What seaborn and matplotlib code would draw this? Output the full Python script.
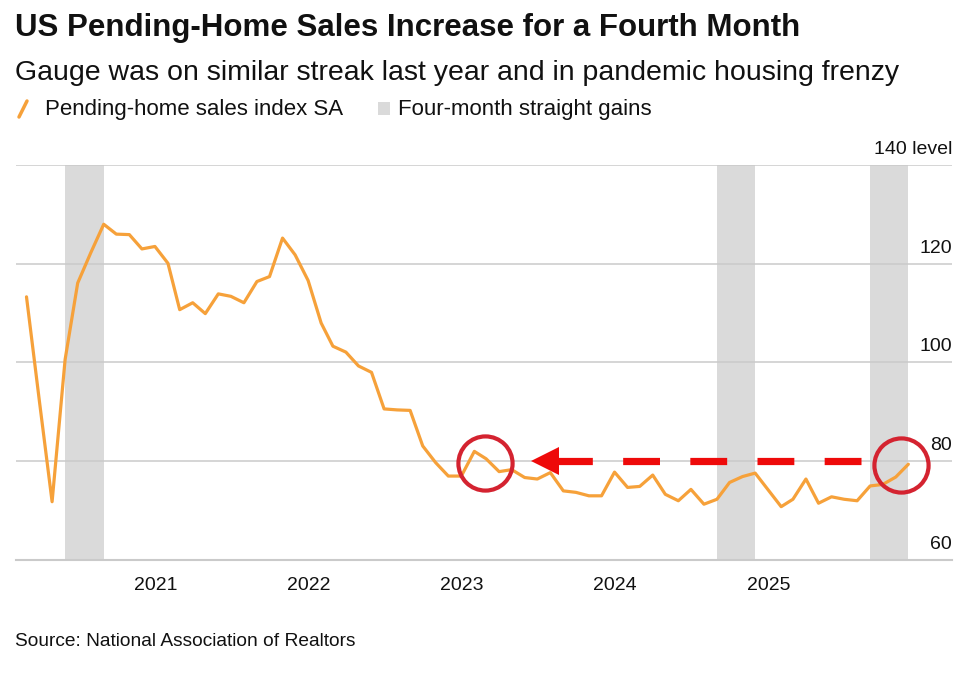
import matplotlib
matplotlib.use('Agg')
from matplotlib import pyplot as plt
from matplotlib.lines import Line2D
from matplotlib.patches import Rectangle
import matplotlib.dates as mdates
import pandas as pd
import seaborn as sns


# Pending-home sales index, seasonally adjusted
SALES_2020 = [113.3, 92.0, 71.8, 100.6, 116.1, 122.2, 128.0, 126.0, 125.9, 123.0, 123.5]  # Feb-Dec
SALES_2021 = [120.1, 110.7, 112.1, 109.9, 113.9, 113.4, 112.1, 116.4, 117.4, 125.2, 121.8, 116.6]
SALES_2022 = [108.0, 103.3, 102.1, 99.3, 98.0, 90.6, 90.4, 90.3, 83.1, 79.7, 77.0, 77.0]
SALES_2023 = [82.0, 80.5, 77.9, 78.3, 76.7, 76.4, 77.7, 74.0, 73.7, 73.0, 73.0, 77.8]
SALES_2024 = [74.7, 74.9, 77.2, 73.3, 72.0, 74.3, 71.3, 72.3, 75.7, 76.9, 77.6, 74.2]
SALES_2025 = [70.8, 72.3, 76.4, 71.5, 72.8, 72.3, 72.0, 75.0, 75.3, 76.8, 79.4]  # Jan-Nov
MONTHS = pd.date_range('2020-02-29', '2025-11-30', freq='ME')

# Four-month straight gains (first and last month of each streak)
STREAK_START = ['2020-05-31', '2024-08-31', '2025-08-31']
STREAK_END = ['2020-08-31', '2024-11-30', '2025-11-30']

YEARS = [2021, 2022, 2023, 2024, 2025]
LEVELS = [60, 80, 100, 120, 140]
LEVEL_LABELS = ['60', '80', '100', '120', '140 level']

COLOR = {
    'line': '#F6A13A',
    'band': '#DADADA',
    'grid': '#CACACA',
    'text': '#111111',
    'dash': '#EE0A0A',
    'ring': '#D42330',
}
FONT = ['Liberation Sans', 'DejaVu Sans']

df = pd.DataFrame({
    'month': MONTHS,
    'index': SALES_2020 + SALES_2021 + SALES_2022 + SALES_2023 + SALES_2024 + SALES_2025,
})

sns.set_style('white')
plt.rcParams['font.family'] = FONT

fig = plt.figure(figsize=(9.75, 6.8), dpi=100)
ax = fig.add_axes([16 / 975, 1 - 560 / 680, (952 - 16) / 975, (560 - 165) / 680])

# Shaded streaks
for start, end in zip(STREAK_START, STREAK_END):
    ax.axvspan(pd.Timestamp(start), pd.Timestamp(end), color=COLOR['band'], lw=0, zorder=0)

# Gridlines and right-hand level labels
for lev, lab in zip(LEVELS, LEVEL_LABELS):
    if lev > LEVELS[0]:
        ax.axhline(lev, color=COLOR['grid'], lw=1.1, zorder=1)
    ax.annotate(lab, xy=(1, lev), xycoords=('axes fraction', 'data'),
                xytext=(0, 8), textcoords='offset points',
                ha='right', va='baseline', fontsize=14, color=COLOR['text'])

sns.lineplot(data=df, x='month', y='index', ax=ax, color=COLOR['line'], lw=2.3, zorder=3)

# Red annotation: circles, dashed arrow pointing back to early 2023
ax.plot([pd.Timestamp('2023-02-26')], [79.6], marker='o', ms=39, mfc='none',
        mec=COLOR['ring'], mew=3, zorder=5)
ax.plot([pd.Timestamp('2025-11-13')], [79.2], marker='o', ms=39, mfc='none',
        mec=COLOR['ring'], mew=3, zorder=5)
ax.plot([pd.Timestamp('2025-08-10'), pd.Timestamp('2023-08-14')], [80, 80],
        color=COLOR['dash'], lw=5.2, dashes=(5.1, 4.2), dash_capstyle='butt', zorder=4)
ax.plot([pd.Timestamp('2023-07-18')], [80], marker='<', ms=19.5, color=COLOR['dash'],
        mew=0, zorder=4)

ax.set_xlim(pd.Timestamp('2020-02-04'), pd.Timestamp('2026-03-14'))
ax.set_ylim(60, 140)
ax.set_xlabel('')
ax.set_ylabel('')
ax.set_yticks([])

ax.set_xticks([pd.Timestamp(f'{y}-01-01') for y in YEARS])
ax.set_xticks(pd.date_range('2020-04-01', '2025-10-01', freq='QS'), minor=True)
ax.xaxis.set_major_formatter(mdates.DateFormatter('%Y'))
ax.tick_params(axis='x', which='major', length=7.5, width=1.2, color='#333333',
               pad=5, labelsize=14, labelcolor=COLOR['text'])
ax.tick_params(axis='x', which='minor', length=3.5, width=1, color='#AAAAAA')

for side in ['top', 'left', 'right']:
    ax.spines[side].set_visible(False)
ax.spines['bottom'].set_color(COLOR['grid'])
ax.spines['bottom'].set_linewidth(1.5)

# Titles, legend and source
fig.text(15 / 975, 1 - 36 / 680, 'US Pending-Home Sales Increase for a Fourth Month',
         fontsize=22.5, weight='bold', color=COLOR['text'], va='baseline')
fig.text(15 / 975, 1 - 80 / 680, 'Gauge was on similar streak last year and in pandemic housing frenzy',
         fontsize=20.5, color=COLOR['text'], va='baseline')

fig.add_artist(Line2D([19 / 975, 27 / 975], [1 - 117 / 680, 1 - 101 / 680],
                      color=COLOR['line'], lw=2.5, transform=fig.transFigure))
fig.text(45 / 975, 1 - 115 / 680, 'Pending-home sales index SA', fontsize=16,
         color=COLOR['text'], va='baseline')
fig.add_artist(Rectangle((378 / 975, 1 - 115 / 680), 12 / 975, 13 / 680,
                         color=COLOR['band'], lw=0, transform=fig.transFigure))
fig.text(398 / 975, 1 - 115 / 680, 'Four-month straight gains', fontsize=16,
         color=COLOR['text'], va='baseline')

fig.text(15 / 975, 1 - 646 / 680, 'Source: National Association of Realtors', fontsize=13.8,
         color=COLOR['text'], va='baseline')

fig.savefig('out.png', dpi=100)
